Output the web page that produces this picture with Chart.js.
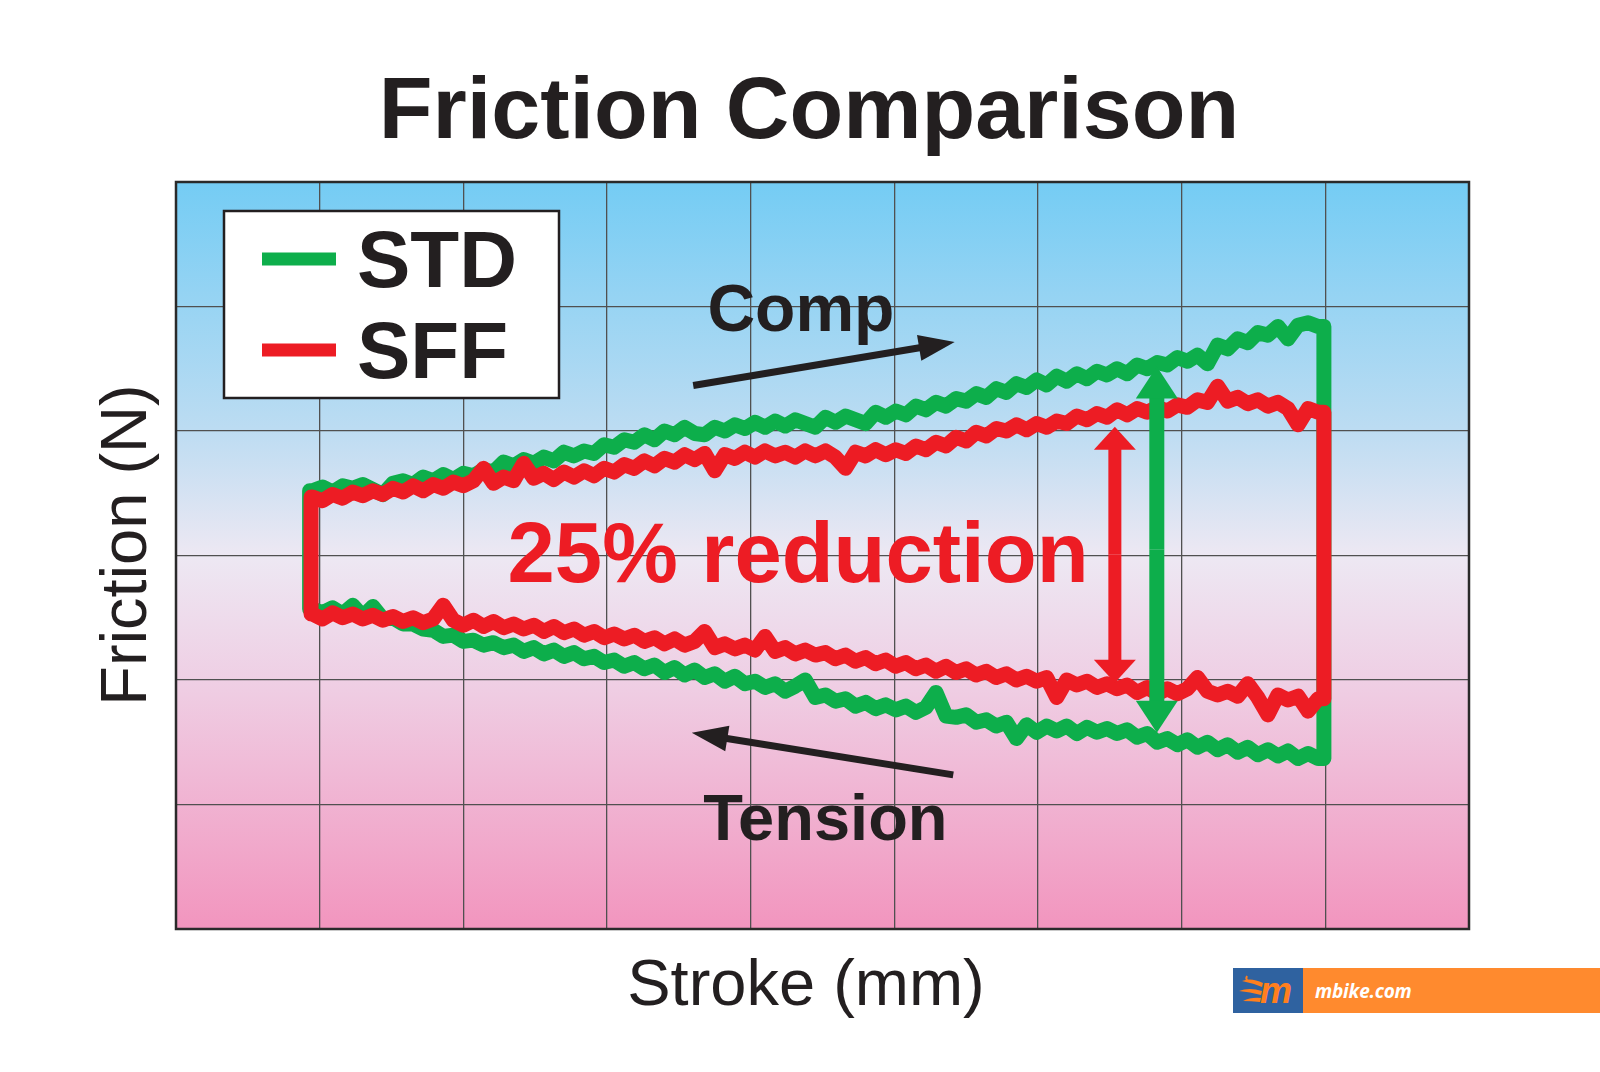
<!DOCTYPE html>
<html>
<head>
<meta charset="utf-8">
<title>Friction Comparison</title>
<script src="https://cdn.jsdelivr.net/npm/chart.js@4.4.1/dist/chart.umd.min.js"></script>
<style>
  html, body { margin: 0; padding: 0; background: #ffffff; }
  #wrap { position: relative; width: 1600px; height: 1072px; overflow: hidden; }
  #c { position: absolute; left: 0; top: 0; }
  #wm-logo { position: absolute; left: 1233px; top: 968px; width: 70px; height: 45px; background: #2F62A0; }
  #wm-bar { position: absolute; left: 1303px; top: 968px; width: 297px; height: 45px; background: #FF8A2E; }
  #wm-text { position: absolute; left: 12px; top: 10px; font: italic bold 19px "Open Sans", "DejaVu Sans", sans-serif; color: #ffffff; letter-spacing: -0.2px; }
</style>
</head>
<body>
<div id="wrap">
  <canvas id="c" width="1600" height="1072"></canvas>
  <div id="wm-logo">
    <svg width="70" height="45" viewBox="0 0 70 45">
      <path d="M9 13 Q18 9 30 15 L29 19 Q19 15 9 13 Z" fill="#FF7F1E"/>
      <path d="M6 23 Q16 19 29 23 L28 27 Q17 24 6 23 Z" fill="#FF7F1E"/>
      <path d="M10 33 Q18 29 28 30 L27 34 Q18 33 10 33 Z" fill="#FF7F1E"/>
      <path d="M14 8 Q12 12 16 13" stroke="#FF7F1E" stroke-width="2" fill="none"/>
      <text x="27" y="35" font-family="Liberation Sans, Arial, sans-serif" font-weight="bold" font-style="italic" font-size="36" fill="#FF7F1E">m</text>
    </svg>
  </div>
  <div id="wm-bar"><div id="wm-text">mbike.com</div></div>
</div>
<script>
// ---------------- DATA ----------------
const strokeGrid = [
  0.95,1.02,1.09,1.16,1.23,1.30,1.37,1.44,1.51,1.58,
  1.65,1.72,1.79,1.86,1.93,2.00,2.07,2.14,2.21,2.28,
  2.35,2.42,2.49,2.56,2.63,2.70,2.77,2.84,2.91,2.98,
  3.05,3.12,3.19,3.26,3.33,3.40,3.47,3.54,3.61,3.68,
  3.75,3.82,3.89,3.96,4.03,4.10,4.17,4.24,4.31,4.38,
  4.45,4.52,4.59,4.66,4.73,4.80,4.87,4.94,5.01,5.08,
  5.15,5.22,5.29,5.36,5.43,5.50,5.57,5.64,5.71,5.78,
  5.85,5.92,5.99,6.06,6.13,6.20,6.27,6.34,6.41,6.48,
  6.55,6.62,6.69,6.76,6.83,6.90,6.97,7.04,7.11,7.18,
  7.25,7.32,7.39,7.46,7.53,7.60,7.67,7.74,7.81,7.88,
  7.95
];

// STD (green) friction on the compression stroke
const stdComp = [
  3.52,3.55,3.51,3.56,3.54,3.57,3.53,3.49,3.58,3.60,
  3.57,3.63,3.60,3.65,3.61,3.66,3.64,3.69,3.67,3.75,
  3.72,3.77,3.74,3.79,3.76,3.83,3.80,3.84,3.82,3.89,
  3.87,3.93,3.91,3.97,3.93,4.00,3.97,4.03,3.98,3.97,
  4.03,4.00,4.05,4.02,4.07,4.03,4.08,4.04,4.09,4.06,
  4.03,4.11,4.07,4.12,4.09,4.06,4.15,4.11,4.16,4.13,
  4.20,4.17,4.23,4.20,4.26,4.24,4.30,4.27,4.34,4.31,
  4.38,4.35,4.41,4.37,4.44,4.40,4.46,4.42,4.48,4.45,
  4.50,4.46,4.53,4.50,4.55,4.53,4.59,4.56,4.61,4.54,
  4.69,4.66,4.74,4.71,4.79,4.77,4.84,4.74,4.85,4.87,
  4.84
];
// STD (green) friction on the tension stroke
const stdTension = [
  2.57,2.54,2.58,2.53,2.60,2.51,2.59,2.49,2.50,2.45,
  2.45,2.41,2.40,2.35,2.36,2.31,2.32,2.28,2.30,2.26,
  2.28,2.23,2.26,2.21,2.24,2.19,2.22,2.17,2.19,2.14,
  2.16,2.11,2.14,2.09,2.12,2.06,2.10,2.04,2.08,2.02,
  2.05,1.99,2.03,1.97,1.99,1.94,1.97,1.91,1.95,2.00,
  1.86,1.88,1.83,1.85,1.79,1.82,1.77,1.80,1.76,1.79,
  1.74,1.78,1.90,1.71,1.70,1.72,1.66,1.68,1.63,1.66,
  1.53,1.64,1.58,1.63,1.59,1.63,1.57,1.62,1.58,1.61,
  1.57,1.60,1.54,1.57,1.50,1.53,1.48,1.52,1.46,1.50,
  1.44,1.48,1.42,1.46,1.40,1.44,1.39,1.43,1.37,1.41,
  1.37
];
// SFF (red) friction on the compression stroke
const sffComp = [
  3.47,3.44,3.49,3.46,3.51,3.48,3.52,3.49,3.54,3.51,
  3.56,3.52,3.57,3.54,3.59,3.56,3.60,3.70,3.58,3.63,
  3.60,3.74,3.62,3.66,3.61,3.67,3.63,3.68,3.64,3.70,
  3.67,3.73,3.70,3.76,3.72,3.78,3.75,3.81,3.77,3.82,
  3.68,3.81,3.78,3.83,3.79,3.84,3.80,3.83,3.79,3.84,
  3.80,3.84,3.79,3.70,3.83,3.80,3.85,3.81,3.85,3.82,
  3.88,3.85,3.91,3.88,3.95,3.92,3.99,3.96,4.02,4.00,
  4.05,4.01,4.06,4.03,4.08,4.06,4.12,4.09,4.14,4.11,
  4.17,4.13,4.18,4.15,4.19,4.16,4.21,4.19,4.25,4.23,
  4.36,4.24,4.27,4.22,4.25,4.20,4.23,4.18,4.05,4.18,
  4.15
];
// SFF (red) friction on the tension stroke
const sffTension = [
  2.53,2.49,2.54,2.50,2.53,2.49,2.52,2.48,2.51,2.47,
  2.50,2.46,2.49,2.60,2.48,2.44,2.48,2.43,2.47,2.42,
  2.45,2.41,2.44,2.39,2.43,2.38,2.41,2.36,2.39,2.34,
  2.37,2.33,2.36,2.31,2.34,2.29,2.33,2.28,2.31,2.39,
  2.26,2.29,2.25,2.28,2.24,2.35,2.23,2.26,2.21,2.24,
  2.20,2.22,2.17,2.20,2.15,2.18,2.13,2.16,2.11,2.14,
  2.09,2.12,2.07,2.11,2.06,2.09,2.04,2.07,2.02,2.05,
  2.00,2.03,1.99,2.02,1.86,2.00,1.96,1.99,1.94,1.97,
  1.93,1.96,1.90,1.94,1.89,1.93,1.89,1.93,2.02,1.91,
  1.88,1.91,1.87,1.97,1.86,1.72,1.88,1.84,1.87,1.75,
  1.85
];
// stroke positions where the direction reverses [start, end]
const stdReversal = [0.93, 7.99];
const sffReversal = [0.94, 7.99];

const seriesNames = ['STD', 'SFF'];
const xTicks = [0, 9, 1];   // min, max, step of the grid
const yTicks = [0, 6, 1];

const titleText = 'Friction Comparison';
const xTitleText = 'Stroke (mm)';
const yTitleText = 'Friction (N)';
const noteTexts = ['Comp', 'Tension', '25% reduction'];

// ---------------- annotation placement (data units) ----------------
const compArrow = [3.60, 4.365, 5.42, 4.715];     // tail x,y -> tip x,y
const tensionArrow = [5.41, 1.238, 3.59, 1.576];
const sffGapArrow = [6.535, 4.035, 1.978];        // x, top tip, bottom tip
const stdGapArrow = [6.827, 4.518, 1.576];
const compLabelPos = [4.35, 4.80];
const tensionLabelPos = [4.52, 0.715];
const reductionLabelPos = [4.33, 2.79];

// ---------------- styles ----------------
const FONT = '"Liberation Sans", Arial, Helvetica, sans-serif';
const INK = '#231F20';
const GREEN = '#0DAE4B';
const RED = '#ED1C24';

function buildLoop(ends, comp, tension) {
  const pts = [{x: ends[0], y: tension[0]}, {x: ends[0], y: comp[0]}];
  strokeGrid.forEach((x, i) => pts.push({x: x, y: comp[i]}));
  pts.push({x: ends[1], y: comp[comp.length - 1]});
  pts.push({x: ends[1], y: tension[tension.length - 1]});
  for (let i = strokeGrid.length - 1; i >= 0; i--) pts.push({x: strokeGrid[i], y: tension[i]});
  pts.push({x: ends[0], y: tension[0]});
  return pts;
}

function arrow(ctx, x1, y1, x2, y2, shaft, headLen, headHalf, color) {
  const dx = x2 - x1, dy = y2 - y1;
  const L = Math.hypot(dx, dy);
  const ux = dx / L, uy = dy / L;
  const bx = x2 - ux * headLen, by = y2 - uy * headLen;
  ctx.save();
  ctx.strokeStyle = color; ctx.fillStyle = color;
  ctx.lineWidth = shaft; ctx.lineCap = 'butt';
  ctx.beginPath(); ctx.moveTo(x1, y1); ctx.lineTo(bx + ux * 2, by + uy * 2); ctx.stroke();
  ctx.beginPath();
  ctx.moveTo(x2, y2);
  ctx.lineTo(bx - uy * headHalf, by + ux * headHalf);
  ctx.lineTo(bx + uy * headHalf, by - ux * headHalf);
  ctx.closePath(); ctx.fill();
  ctx.restore();
}

function doubleArrow(ctx, x, yTop, yBot, shaft, headLen, headHalf, color) {
  const mid = (yTop + yBot) / 2;
  arrow(ctx, x, mid, x, yTop, shaft, headLen, headHalf, color);
  arrow(ctx, x, mid, x, yBot, shaft, headLen, headHalf, color);
}

const decor = {
  id: 'decor',
  beforeDraw(chart) {
    const {ctx, chartArea: a} = chart;
    const g = ctx.createLinearGradient(0, a.top, 0, a.bottom);
    g.addColorStop(0, '#74CCF4');
    g.addColorStop(0.33, '#BCDCF2');
    g.addColorStop(0.5, '#EDE8F3');
    g.addColorStop(0.68, '#EFCDE3');
    g.addColorStop(1, '#F295BE');
    ctx.save();
    ctx.fillStyle = g;
    ctx.fillRect(a.left, a.top, a.right - a.left, a.bottom - a.top);
    ctx.restore();
  },
  afterDatasetsDraw(chart) {
    const ctx = chart.ctx;
    const xs = chart.scales.x, ys = chart.scales.y;
    const X = v => xs.getPixelForValue(v), Y = v => ys.getPixelForValue(v);

    arrow(ctx, X(compArrow[0]), Y(compArrow[1]), X(compArrow[2]), Y(compArrow[3]), 7, 36, 13, INK);
    arrow(ctx, X(tensionArrow[0]), Y(tensionArrow[1]), X(tensionArrow[2]), Y(tensionArrow[3]), 7, 36, 13, INK);
    doubleArrow(ctx, X(sffGapArrow[0]), Y(sffGapArrow[1]), Y(sffGapArrow[2]), 13, 23, 21, RED);
    doubleArrow(ctx, X(stdGapArrow[0]), Y(stdGapArrow[1]), Y(stdGapArrow[2]), 15, 32, 21, GREEN);

    ctx.save();
    ctx.textAlign = 'center';
    ctx.textBaseline = 'alphabetic';
    ctx.fillStyle = INK;
    ctx.font = 'bold 66px ' + FONT;
    ctx.fillText(noteTexts[0], X(compLabelPos[0]), Y(compLabelPos[1]));
    ctx.font = 'bold 65px ' + FONT;
    ctx.fillText(noteTexts[1], X(tensionLabelPos[0]), Y(tensionLabelPos[1]));
    ctx.fillStyle = RED;
    ctx.font = 'bold 85px ' + FONT;
    ctx.fillText(noteTexts[2], X(reductionLabelPos[0]), Y(reductionLabelPos[1]));
    ctx.restore();
  },
  afterDraw(chart) {
    const {ctx, chartArea: a} = chart;
    ctx.save();
    // frame
    ctx.strokeStyle = '#2A2A2A';
    ctx.lineWidth = 2.5;
    ctx.strokeRect(a.left, a.top, a.right - a.left, a.bottom - a.top);

    // title
    ctx.fillStyle = INK;
    ctx.textAlign = 'center';
    ctx.textBaseline = 'alphabetic';
    ctx.font = 'bold 88px ' + FONT;
    ctx.fillText(titleText, 809, 138);

    // axis titles
    ctx.font = '65px ' + FONT;
    ctx.fillText(xTitleText, 806, 1005);
    ctx.save();
    ctx.translate(146, 545);
    ctx.rotate(-Math.PI / 2);
    ctx.fillText(yTitleText, 0, 0);
    ctx.restore();

    // legend
    ctx.fillStyle = '#ffffff';
    ctx.fillRect(224, 211, 335, 187);
    ctx.strokeStyle = INK;
    ctx.lineWidth = 2.5;
    ctx.strokeRect(224, 211, 335, 187);
    const ds = chart.data.datasets;
    const rows = [259, 350];
    ds.forEach((d, i) => {
      ctx.fillStyle = d.borderColor;
      ctx.fillRect(262, rows[i] - 6.5, 74, 13);
      ctx.fillStyle = INK;
      ctx.textAlign = 'left';
      ctx.font = 'bold 80px ' + FONT;
      ctx.fillText(d.label, 357, rows[i] + 28);
    });
    ctx.restore();
  }
};

new Chart(document.getElementById('c'), {
  type: 'scatter',
  data: {
    datasets: [
      {
        label: seriesNames[0],
        data: buildLoop(stdReversal, stdComp, stdTension),
        showLine: true,
        borderColor: GREEN,
        backgroundColor: GREEN,
        borderWidth: 15,
        pointRadius: 0,
        pointHoverRadius: 0,
        tension: 0,
        fill: false,
        borderJoinStyle: 'round',
        borderCapStyle: 'round',
        order: 2
      },
      {
        label: seriesNames[1],
        data: buildLoop(sffReversal, sffComp, sffTension),
        showLine: true,
        borderColor: RED,
        backgroundColor: RED,
        borderWidth: 15,
        pointRadius: 0,
        pointHoverRadius: 0,
        tension: 0,
        fill: false,
        borderJoinStyle: 'round',
        borderCapStyle: 'round',
        order: 1
      }
    ]
  },
  options: {
    responsive: false,
    animation: false,
    events: [],
    layout: { padding: { left: 176, top: 182, right: 131, bottom: 143 } },
    plugins: { legend: { display: false }, title: { display: false }, tooltip: { enabled: false } },
    scales: {
      x: {
        type: 'linear', min: xTicks[0], max: xTicks[1],
        ticks: { display: false, stepSize: xTicks[2] },
        grid: { color: '#505050', lineWidth: 1.3, drawTicks: false },
        border: { display: false }
      },
      y: {
        type: 'linear', min: yTicks[0], max: yTicks[1],
        ticks: { display: false, stepSize: yTicks[2] },
        grid: { color: '#505050', lineWidth: 1.3, drawTicks: false },
        border: { display: false }
      }
    }
  },
  plugins: [decor]
});
</script>
</body>
</html>
